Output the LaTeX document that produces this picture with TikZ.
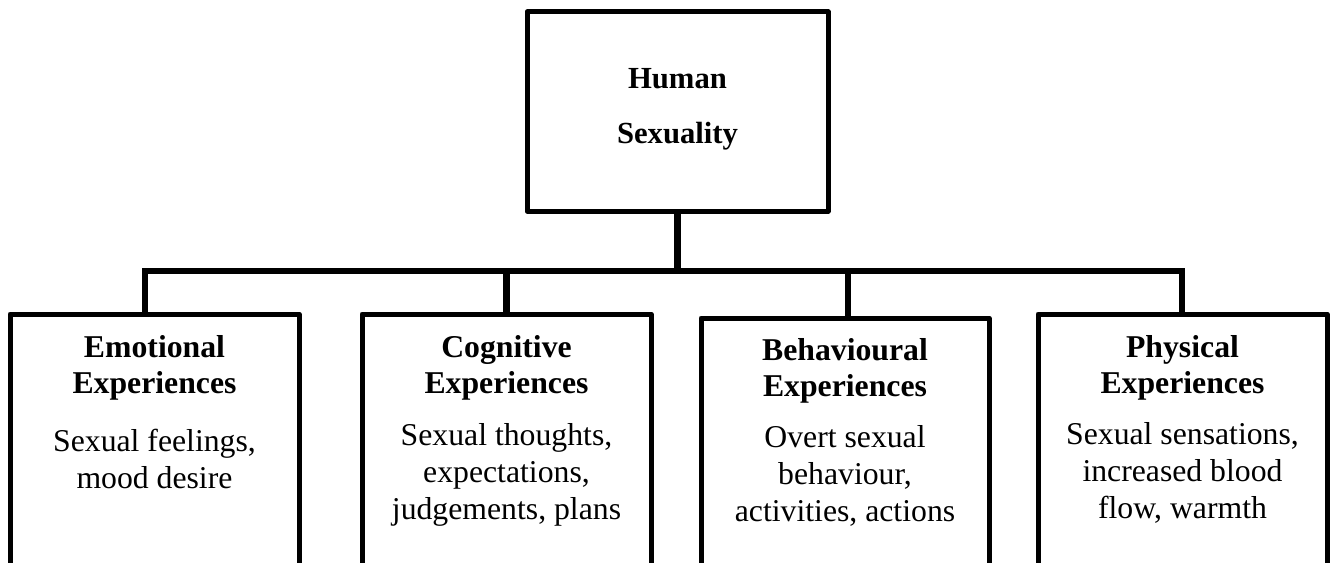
\documentclass[tikz,border=0pt]{standalone}
\usepackage{fontspec}
\setmainfont{Liberation Serif}
\begin{document}
\begin{tikzpicture}[x=0.75pt,y=0.75pt,
  frame/.style={draw=black,line width=3.75pt,line join=round,fill=white,inner sep=0pt,outer sep=0pt},
  link/.style={draw=black,line width=5pt},
  toptext/.style={align=center,inner sep=0pt,anchor=base,font=\fontsize{23}{41}\selectfont\bfseries},
  headtext/.style={align=center,inner sep=0pt,anchor=base,font=\fontsize{23.8}{27}\selectfont\bfseries},
  bodytext/.style={align=center,inner sep=0pt,anchor=base,font=\fontsize{23.8}{27.75}\selectfont}]
\useasboundingbox (0,0) rectangle (1334,562);
\clip (0,0) rectangle (1334,562);

% root box (sizes in pt: 1 unit = 0.75pt)
\node[frame,minimum width=225.75pt,minimum height=149.25pt] (root) at (677.5,450.5) {};
\node[toptext] (roottxt) at (677.5,419) {Human\\Sexuality};

% four category boxes, open below the page edge
\node[frame,minimum width=216.75pt,minimum height=225pt,anchor=north] (emo) at (154.5,248) {};
\node[frame,minimum width=216.75pt,minimum height=225pt,anchor=north] (cog) at (506.5,248) {};
\node[frame,minimum width=216pt,minimum height=225pt,anchor=north] (beh) at (845,244) {};
\node[frame,minimum width=216.75pt,minimum height=225pt,anchor=north] (phy) at (1182.5,248) {};

\node[headtext] (emoh) at (154.5,169) {Emotional\\Experiences};
\node[bodytext] (emob) at (154.5,74) {Sexual feelings,\\mood desire};

\node[headtext] (cogh) at (506.5,169) {Cognitive\\Experiences};
\node[bodytext] (cogb) at (506.5,43) {Sexual thoughts,\\expectations,\\judgements, plans};

\node[headtext] (behh) at (845,166) {Behavioural\\Experiences};
\node[bodytext] (behb) at (845,41) {Overt sexual\\behaviour,\\activities, actions};

\node[headtext] (phyh) at (1182.5,169) {Physical\\Experiences};
\node[bodytext] (phyb) at (1182.5,44) {Sexual sensations,\\increased blood\\flow, warmth};

% tree connectors
\coordinate (bl) at (145,291);
\coordinate (br) at (1182,291);
\coordinate (bt) at (848,244);
\draw[link] (root.south) -- (root.south |- bl);
\draw[link] (emo.north -| bl) -- (bl) -- (br) -- (phy.north -| br);
\draw[link] (cog.north) -- (cog.north |- bl);
\draw[link] (bt) -- (bt |- bl);
\end{tikzpicture}
\end{document}
